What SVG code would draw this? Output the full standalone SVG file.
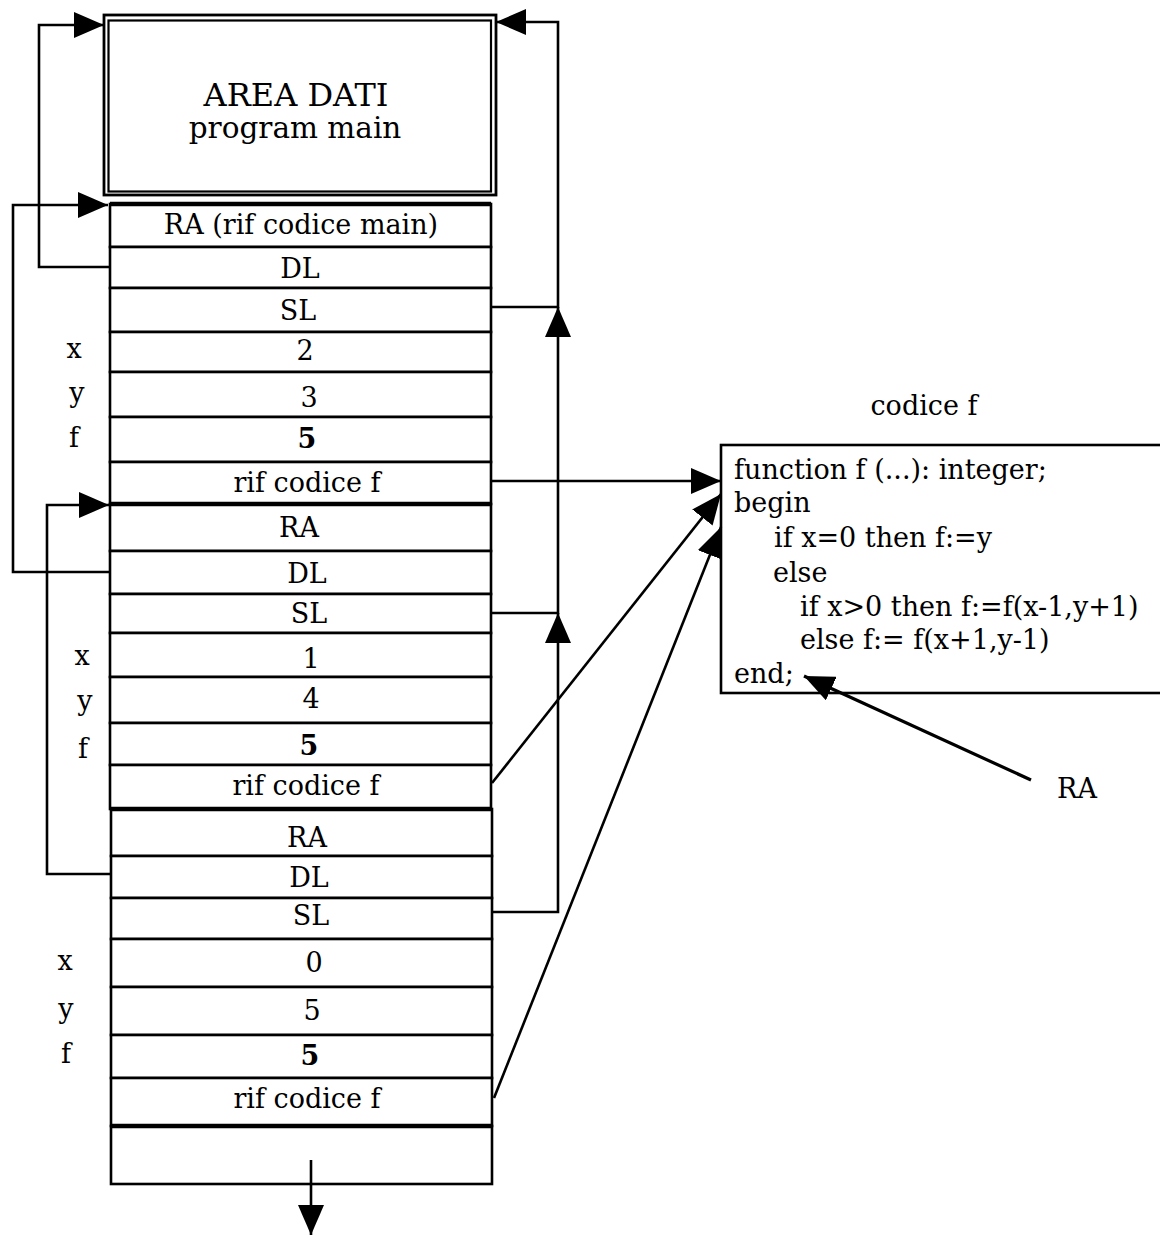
<svg xmlns="http://www.w3.org/2000/svg" width="1160" height="1237" viewBox="0 0 1160 1237">
<style>
text{font-family:"DejaVu Serif","Liberation Serif",serif;font-size:27px;fill:#000}
.c{text-anchor:middle}
.b{font-weight:bold}
.t1{font-size:32px}
.t2{font-size:29.5px}
.cell{fill:#fff;stroke:#000;stroke-width:2.6}
.sep{stroke:#000;stroke-width:4.5}
.ln{fill:none;stroke:#000;stroke-width:2.6}
</style>
<defs>
<marker id="ah" markerUnits="userSpaceOnUse" markerWidth="30" markerHeight="26" viewBox="0 0 30 26" refX="30" refY="13" orient="auto">
<path d="M0,0 L30,13 L0,26 z" fill="#000"/>
</marker>
</defs>
<rect width="1160" height="1237" fill="#fff"/>

<g id="main-area">
<rect x="104" y="15" width="392" height="180" fill="#fff" stroke="#000" stroke-width="2.8"/>
<rect x="108.5" y="20.5" width="382.5" height="171" fill="none" stroke="#000" stroke-width="2.2"/>
<text class="c t1" x="296" y="106">AREA DATI</text>
<text class="c t2" x="295" y="138">program main</text>
</g>

<g id="frame1">
<g id="f1-ra"><rect class="cell" x="110" y="204" width="381" height="43"/><text class="c" x="301" y="234">RA (rif codice main)</text></g>
<g id="f1-dl"><rect class="cell" x="110" y="247" width="381" height="41"/><text class="c" x="300" y="278">DL</text></g>
<g id="f1-sl"><rect class="cell" x="110" y="288" width="381" height="44"/><text class="c" x="298" y="320">SL</text></g>
<g id="f1-x"><rect class="cell" x="110" y="332" width="381" height="40"/><text class="c" x="305" y="360">2</text><text class="c" x="74" y="358">x</text></g>
<g id="f1-y"><rect class="cell" x="110" y="372" width="381" height="45"/><text class="c" x="309" y="407">3</text><text class="c" x="77" y="402">y</text></g>
<g id="f1-f"><rect class="cell" x="110" y="417" width="381" height="45"/><text class="c b" x="307" y="448">5</text><text class="c" x="74" y="447">f</text></g>
<g id="f1-rif"><rect class="cell" x="110" y="462" width="381" height="42"/><text class="c" x="307" y="492">rif codice f</text></g>
</g>

<g id="frame2">
<g id="f2-ra"><rect class="cell" x="110" y="504" width="381" height="47"/><text class="c" x="299" y="537">RA</text></g>
<g id="f2-dl"><rect class="cell" x="110" y="551" width="381" height="43"/><text class="c" x="307" y="583">DL</text></g>
<g id="f2-sl"><rect class="cell" x="110" y="594" width="381" height="39"/><text class="c" x="309" y="623">SL</text></g>
<g id="f2-x"><rect class="cell" x="110" y="633" width="381" height="44"/><text class="c" x="311" y="668">1</text><text class="c" x="82" y="665">x</text></g>
<g id="f2-y"><rect class="cell" x="110" y="677" width="381" height="46"/><text class="c" x="311" y="708">4</text><text class="c" x="85" y="710">y</text></g>
<g id="f2-f"><rect class="cell" x="110" y="723" width="381" height="42"/><text class="c b" x="309" y="755">5</text><text class="c" x="83" y="758">f</text></g>
<g id="f2-rif"><rect class="cell" x="110" y="765" width="381" height="44"/><text class="c" x="306" y="795">rif codice f</text></g>
</g>

<g id="frame3">
<g id="f3-ra"><rect class="cell" x="111" y="809" width="381" height="47"/><text class="c" x="307" y="847">RA</text></g>
<g id="f3-dl"><rect class="cell" x="111" y="856" width="381" height="42"/><text class="c" x="309" y="887">DL</text></g>
<g id="f3-sl"><rect class="cell" x="111" y="898" width="381" height="41"/><text class="c" x="311" y="925">SL</text></g>
<g id="f3-x"><rect class="cell" x="111" y="939" width="381" height="48"/><text class="c" x="314" y="972">0</text><text class="c" x="65" y="970">x</text></g>
<g id="f3-y"><rect class="cell" x="111" y="987" width="381" height="48"/><text class="c" x="312" y="1020">5</text><text class="c" x="66" y="1018">y</text></g>
<g id="f3-f"><rect class="cell" x="111" y="1035" width="381" height="43"/><text class="c b" x="310" y="1065">5</text><text class="c" x="66" y="1063">f</text></g>
<g id="f3-rif"><rect class="cell" x="111" y="1078" width="381" height="48"/><text class="c" x="307" y="1108">rif codice f</text></g>
<g id="free"><rect class="cell" x="111" y="1126" width="381" height="58"/></g>
</g>

<g id="separators">
<line class="sep" x1="110" y1="204" x2="491" y2="204"/>
<line class="sep" x1="110" y1="504" x2="491" y2="504"/>
<line class="sep" x1="110" y1="809" x2="492" y2="809"/>
<line class="sep" x1="111" y1="1126" x2="492" y2="1126"/>
</g>

<g id="code-f">
<text class="c" x="924" y="415">codice f</text>
<rect x="721" y="445" width="450" height="248" fill="#fff" stroke="#000" stroke-width="2.6"/>
<text x="734" y="479">function f (...): integer;</text>
<text x="734" y="512">begin</text>
<text x="774" y="547">if x=0 then f:=y</text>
<text x="773" y="582">else</text>
<text x="800" y="616">if x&gt;0 then f:=f(x-1,y+1)</text>
<text x="800" y="649">else f:= f(x+1,y-1)</text>
<text x="734" y="683">end;</text>
</g>

<g id="ra-label"><text class="c" x="1077" y="798">RA</text></g>

<g id="connectors">
<path class="ln" d="M110,267 H39 V25 H104" marker-end="url(#ah)"/>
<path class="ln" d="M110,572 H13 V205 H108" marker-end="url(#ah)"/>
<path class="ln" d="M110,874 H47 V505 H109" marker-end="url(#ah)"/>
<path class="ln" d="M491,307 H558 V22 H496" marker-end="url(#ah)"/>
<path class="ln" d="M491,613 H558 V307" marker-end="url(#ah)"/>
<path class="ln" d="M492,912 H558 V613" marker-end="url(#ah)"/>
<path class="ln" d="M491,481 H721" marker-end="url(#ah)"/>
<path class="ln" d="M492,783 L721,494" marker-end="url(#ah)"/>
<path class="ln" d="M494,1098 L721,527" marker-end="url(#ah)"/>
<path class="ln" d="M1031,780 L804,676" style="stroke-width:3.2" marker-end="url(#ah)"/>
<path class="ln" d="M311,1160 V1235" marker-end="url(#ah)"/>
</g>
</svg>
